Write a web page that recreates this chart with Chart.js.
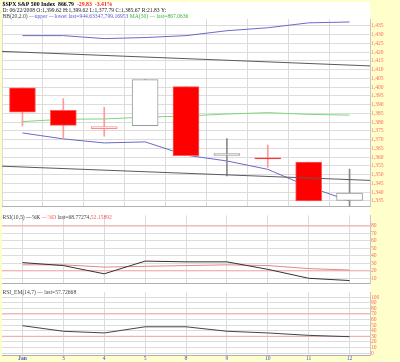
<!DOCTYPE html>
<html><head><meta charset="utf-8">
<script src="https://cdn.jsdelivr.net/npm/chart.js@4/dist/chart.umd.min.js"></script>
<style>
html,body{margin:0;padding:0;background:#ffffcc;width:400px;height:362px;overflow:hidden;}
#white{position:absolute;left:2px;top:2px;width:368px;height:353px;background:#fff;}
.p{position:absolute;left:0;width:400px;}
</style></head><body>
<div id="white"></div>
<div class="p" style="top:0;height:211px"><canvas id="c1"></canvas></div>
<div class="p" style="top:211px;height:77px"><canvas id="c2"></canvas></div>
<div class="p" style="top:288px;height:74px"><canvas id="c3"></canvas></div>
<script>
// ---- data ----
const xLabels = ['Jan','3','4','5','8','9','10','11','12'];
const openP  = [1399.62,1386.7,1376.2,1377.9,1400.3,1361.0,1359.6,1357.1,1335.2];
const highP  = [1399.62,1393.4,1388.4,1404.3,1400.3,1370.6,1366.9,1357.1,1353.1];
const lowP   = [1377.79,1370.4,1371.9,1377.9,1360.8,1349.2,1354.1,1335.0,1332.0];
const closeP = [1385.67,1378.1,1377.5,1404.3,1360.8,1362.0,1358.9,1335.0,1339.5];
const bbUpper = [1429.4,1429.4,1427.7,1428.3,1429.4,1432.2,1433.9,1436.7,1437.2];
const bbLower = [1373.8,1370.4,1368.1,1368.7,1361.1,1357.8,1353.0,1343.1,1335.0];
const ma50    = [1380.3,1381.6,1381.8,1382.8,1383.5,1384.6,1385.4,1384.4,1384.0];
const trendEnds  = [-0.5, 8.5];
const trendUpper = [1420.4,1412.1];
const trendLower = [1354.8,1346.7];
const rsiK = [31,27,16,33,32,32,22,10,7];
const rsiD = [28,28,25,26,27,28,27,23,21];
const rsiLevels = [80,20];
const emaLine = [49,39,36,47,47,39,36,31.7,29.3];
const emaLevels = [70,30];
const priceTicks = [1335,1340,1345,1350,1355,1360,1365,1370,1375,1380,1385,1390,1395,1400,1405,1410,1415,1420,1425,1430,1435];
const rsiTicks = [10,20,30,40,50,60,70,80];
const emaTicks = [0,10,20,30,40,50,60,70,80,90,100];

// ---- styles ----
const FONT = "'Liberation Serif', serif";
const GRID = '#dcdcdc';
const idx = xLabels.map((_, i) => i);
const prevClose = i => i === 0 ? Infinity : closeP[i - 1];
const isRed = i => closeP[i] < prevClose(i);
const isFilled = i => closeP[i] < openP[i];
const bodyFill = idx.map(i => isFilled(i) ? (isRed(i) ? '#ff0000' : '#000') : '#ffffff');
const bodyBorder = idx.map(i => isRed(i) ? (isFilled(i) ? '#ff5a5a' : '#ff8c8c') : '#9a9a9a');
const wickColor = idx.map(i => isRed(i) ? '#ff9a9a' : '#8a8a8a');

function hdrPlugin(lines) {
  return { id: 'hdr', afterDraw(chart) {
    const ctx = chart.ctx; ctx.save(); ctx.textBaseline = 'middle';
    for (const ln of lines) {
      let x = ln.x;
      for (const [t, c, b] of ln.segs) {
        ctx.font = (b ? 'bold ' : '') + ln.size + 'px ' + FONT;
        ctx.fillStyle = c; ctx.fillText(t, x, ln.y);
        x += ctx.measureText(t).width;
      }
    }
    ctx.restore();
  }};
}

function xScale(show) {
  return {
    type: 'linear', min: -0.5, max: 8.5, offset: false,
    afterBuildTicks: s => { s.ticks = idx.map(i => ({ value: i })); },
    afterFit: s => { s.height = show ? 7 : 0; },
    ticks: { display: show, autoSkip: false, maxRotation: 0, padding: 0,
      color: '#4a4ad8',
      font: c => ({ family: FONT, size: 5.6, weight: (c.tick && c.tick.value === 0) ? 'bold' : 'normal' }),
      callback: v => xLabels[v] },
    grid: { color: GRID, drawTicks: false },
    border: { display: true, color: '#b0b0b0' }
  };
}
function yScale(min, max, ticks) {
  return {
    position: 'right', min, max,
    afterBuildTicks: s => { s.ticks = ticks.map(v => ({ value: v })); },
    afterFit: s => { s.width = 30; },
    ticks: { autoSkip: false, padding: 1, color: '#ff6a6a', font: { family: FONT, size: 5.6 } },
    grid: { color: GRID, drawTicks: false },
    border: { display: true, color: '#c8c8c8' }
  };
}
const base = {
  responsive: true, maintainAspectRatio: false, animation: false, devicePixelRatio: 1,
  plugins: { legend: { display: false }, tooltip: { enabled: false } },
  elements: { point: { radius: 0 }, line: { tension: 0 } }
};
const xy = arr => arr.map((v, i) => ({ x: i, y: v }));

// ---- price panel ----
new Chart(document.getElementById('c1'), {
  type: 'bar',
  data: { datasets: [
    { type: 'line', data: trendEnds.map((x, i) => ({ x, y: trendUpper[i] })), borderColor: '#5a5a5a', borderWidth: 1, order: 0 },
    { type: 'line', data: trendEnds.map((x, i) => ({ x, y: trendLower[i] })), borderColor: '#5a5a5a', borderWidth: 1, order: 0 },
    { type: 'bar', data: idx.map(i => ({ x: i, y: [openP[i], closeP[i]] })), backgroundColor: bodyFill, borderColor: bodyBorder,
      borderWidth: 1, borderSkipped: false, barThickness: 26, grouped: false, order: 1 },
    { type: 'bar', data: idx.map(i => ({ x: i, y: [lowP[i], highP[i]] })), backgroundColor: wickColor,
      borderWidth: 0, barThickness: 1, grouped: false, order: 2 },
    { type: 'line', data: xy(bbUpper), borderColor: '#6a6ac8', borderWidth: 1, order: 3 },
    { type: 'line', data: xy(bbLower), borderColor: '#6a6ac8', borderWidth: 1, order: 3 },
    { type: 'line', data: xy(ma50), borderColor: '#7ad87a', borderWidth: 1, order: 3 }
  ]},
  options: Object.assign({}, base, {
    layout: { padding: { top: 19, left: 2, right: 0, bottom: 0 } },
    scales: { x: xScale(false), y: yScale(1331.7, 1438.9, priceTicks) }
  }),
  plugins: [hdrPlugin([
    { x: 2.5, y: 4.8, size: 5.8, segs: [['$SPX S&P 500 Index  ', '#000', true], ['866.79  ', '#000', true], ['-29.83  -3.41%', '#ff1a1a', true]] },
    { x: 2.5, y: 11, size: 5.6, segs: [['D: 06/22/2008 O:1,399.62 H:1,399.62 L:1,377.79 C:1,385.67 R:21.83 Y:', '#222']] },
    { x: 2.5, y: 16.3, size: 5.6, segs: [['BB(20,2.0) ', '#444'], ['\u2014upper \u2014lower last=944.63347,799.16953 ', '#5a5ac8'], ['MA(50) \u2014 last=867.0636', '#3cb43c']] }
  ])]
});

// ---- RSI panel ----
new Chart(document.getElementById('c2'), {
  type: 'line',
  data: { datasets: [
    { data: xy(rsiK), borderColor: '#333', borderWidth: 1 },
    { data: xy(rsiD), borderColor: '#e08888', borderWidth: 1 },
    ...rsiLevels.map(l => ({ data: trendEnds.map(x => ({ x, y: l })), borderColor: '#f4a8a8', borderWidth: 1 }))
  ]},
  options: Object.assign({}, base, {
    layout: { padding: { top: 0, left: 2, right: 0, bottom: 0 } },
    scales: { x: xScale(false), y: yScale(2.85, 94.2, rsiTicks) }
  }),
  plugins: [hdrPlugin([
    { x: 2.5, y: 6.3, size: 5.6, segs: [['RSI(10,5) ', '#444'], ['\u2014%K ', '#222'], ['\u2014%D ', '#f05a5a'], ['last=68.77274,', '#444'], ['52.15892', '#f05a5a']] }
  ])]
});

// ---- RSI EMA panel ----
new Chart(document.getElementById('c3'), {
  type: 'line',
  data: { datasets: [
    { data: xy(emaLine), borderColor: '#444', borderWidth: 1 },
    ...emaLevels.map(l => ({ data: trendEnds.map(x => ({ x, y: l })), borderColor: '#f4a8a8', borderWidth: 1 }))
  ]},
  options: Object.assign({}, base, {
    layout: { padding: { top: 1, left: 2, right: 0, bottom: 0 } },
    scales: { x: xScale(true), y: yScale(-3.4, 108.5, emaTicks) }
  }),
  plugins: [hdrPlugin([
    { x: 2.5, y: 5, size: 5.6, segs: [['RSI_EM(14,7) \u2014 last=57.72668', '#444']] }
  ])]
});
</script>
</body></html>
